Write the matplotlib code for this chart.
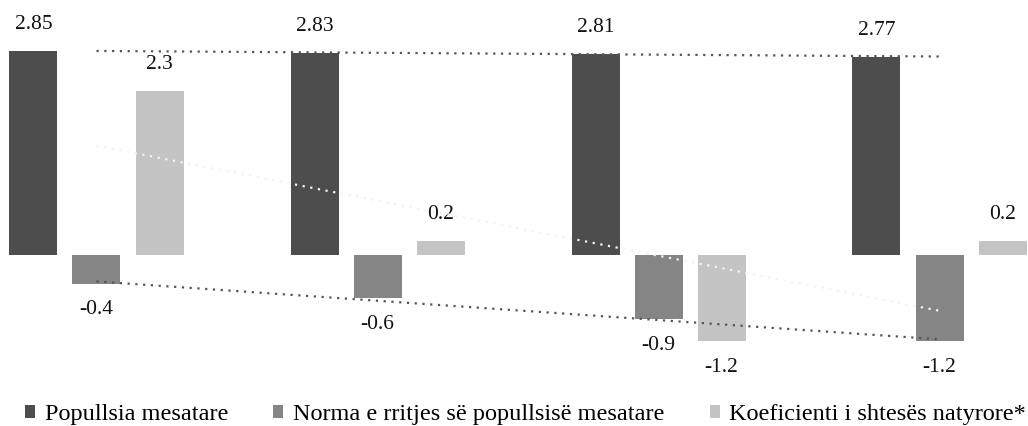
import numpy as np
import matplotlib
matplotlib.use("Agg")
import matplotlib.pyplot as plt
from matplotlib.patches import Patch

categories = ["1", "2", "3", "4"]
popullsia = [2.85, 2.83, 2.81, 2.77]
norma = [-0.4, -0.6, -0.9, -1.2]
koeficienti = [2.3, 0.2, -1.2, 0.2]
series_names = ["Popullsia mesatare",
                "Norma e rritjes së popullsisë mesatare",
                "Koeficienti i shtesës natyrore*"]
colors = ["#4d4d4d", "#858585", "#c4c4c4"]

plt.rcParams['font.family'] = ['Liberation Serif', 'DejaVu Serif']

W, H = 1028, 426
fig = plt.figure(figsize=(W / 100, H / 100), dpi=100)
ax = fig.add_axes([0, 0, 1, 1])

px_per_unit = 71.5
zero_px = 255
ax.set_ylim(-(H - zero_px) / px_per_unit, zero_px / px_per_unit)
grp_px = 281.0
c0 = 96.5
ax.set_xlim(-c0 / grp_px, (W - c0) / grp_px)
ax.axis('off')

x = np.arange(len(categories))
step = 63 / grp_px
width = 48 / grp_px

all_series = [popullsia, norma, koeficienti]
for k, (vals, col) in enumerate(zip(all_series, colors)):
    xs = x + (k - 1) * step
    ax.bar(xs, vals, width=width, color=col, zorder=2)
    for xi, v in zip(xs, vals):
        off = 19 if v >= 0 else -19
        ax.annotate(f"{v:g}", (xi, v), xytext=(0, off), textcoords='offset points',
                    ha='center', va='center', fontsize=15.5, color='#111111')

# linear trend lines
trend_colors = ["#555555", "#555555", "#f4f4f4"]
for vals, tc in zip(all_series, trend_colors):
    p = np.polyfit(x, vals, 1)
    ax.plot(x, np.polyval(p, x), linestyle=(0, (1, 2.5)), color=tc,
            linewidth=1.6, zorder=3)

handles = [Patch(facecolor=c, edgecolor='none') for c in colors]
fig.legend(handles, series_names, loc='lower left', bbox_to_anchor=(25 / W, 1 / H),
           ncol=3, frameon=False, fontsize=17.5, handlelength=0.42, handleheight=0.42,
           handletextpad=0.4, columnspacing=1.85, borderaxespad=0, borderpad=0)

fig.savefig("out.png", dpi=100)
